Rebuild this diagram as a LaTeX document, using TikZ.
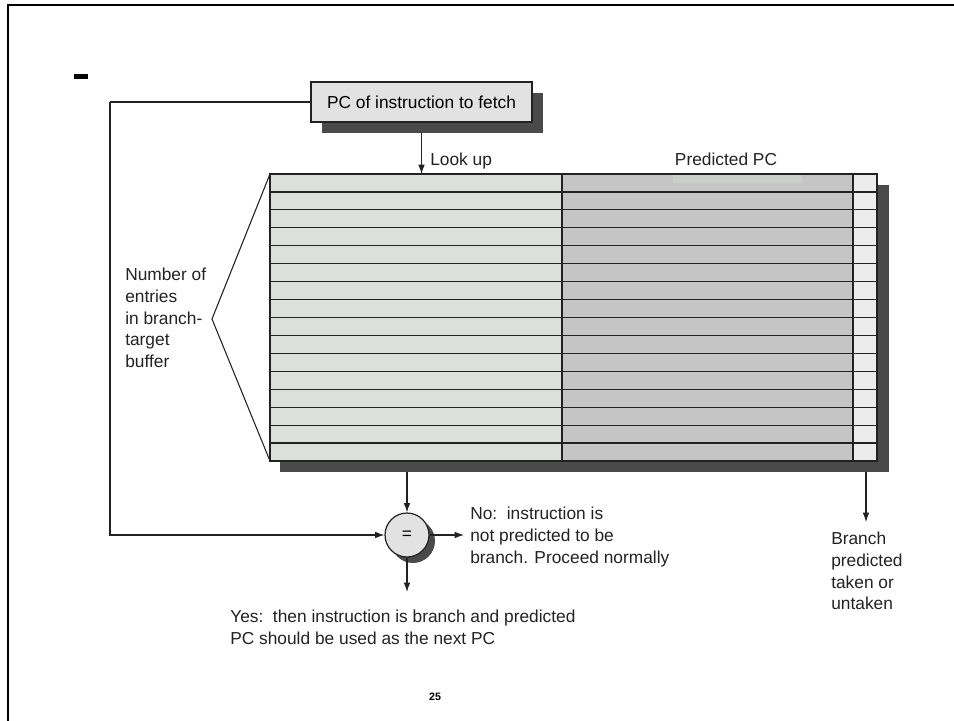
\documentclass[tikz,border=0pt]{standalone}
\usepackage{fontspec}
\setmainfont{Liberation Sans}
\usetikzlibrary{arrows.meta}
\definecolor{shad}{HTML}{4A4A4A}
\definecolor{colA}{HTML}{DCE0DB}
\definecolor{colB}{HTML}{C5C5C5}
\definecolor{colC}{HTML}{ECECEC}
\definecolor{hlite}{HTML}{CBCFCA}
\definecolor{boxfill}{HTML}{E1E2E1}
\definecolor{ink}{HTML}{222222}
\begin{document}
\begin{tikzpicture}[x=0.75pt,y=-0.75pt,
  font=\fontsize{13}{16.2}\selectfont,
  conn/.style={draw=ink,line width=0.8pt},
  arr/.style={conn,-{Latex[length=7pt,width=5pt]}},
  tline/.style={draw=ink,line width=0.9pt},
  lbl/.style={inner sep=0pt,align=left,anchor=north west,text=ink},
  pcbox/.style={draw=ink,line width=0.9pt,fill=boxfill,minimum width=165.75pt,minimum height=30pt,inner sep=0pt},
  eqnode/.style={circle,draw=ink,line width=0.9pt,fill=boxfill,minimum size=33pt,inner sep=0pt}]
\useasboundingbox (0,0) rectangle (954,721);
% frame
\draw[line width=2pt,black] (954,5) -- (8,5) -- (8,721);
\fill[black] (74,74) rectangle (88,79);

% coordinates
\coordinate (tnw) at (270,174);
\coordinate (tse) at (877,461);
\coordinate (tsb) at (573,472);
\coordinate (pcsb) at (421.5,133);
\coordinate (fb) at (110,102);
\coordinate (apex) at (212,319);
\coordinate (notip) at (464,535);
\coordinate (yestip) at (407,592);
\coordinate (brtop) at (866,472);
\coordinate (brtip) at (866,522);

% table
\fill[shad] (280,461) rectangle (889,472);
\fill[shad] (877,185) rectangle (889,472);
\fill[colA] (270,174) rectangle (562,461);
\fill[colB] (562,174) rectangle (853,461);
\fill[colC] (853,174) rectangle (877,461);
\fill[hlite] (673,175) rectangle (802,183);
\foreach \i in {0,...,16}
  \draw[tline] (270,{174+\i*17.9375}) -- (877,{174+\i*17.9375});
\draw[tline] (562,174) -- (562,461);
\draw[tline] (853,174) -- (853,461);
\draw[tline] (tnw) rectangle (tse);
\draw[conn] (tnw) -- (apex) -- (270,461);

% nodes
\fill[shad] (322,93) rectangle (543,133);
\node[pcbox] (pc) at (421.5,102) {PC of instruction to fetch};
\fill[shad] (413,541) circle (16.5pt);
\node[eqnode] (eq) at (407,535) {=};

% connectors
\draw[arr] (pc.south |- pcsb) -- (pc.south |- tnw);
\draw[conn] (pc.west) -- (fb);
\draw[arr] (fb) |- (eq.west);
\draw[arr] (eq |- tsb) -- (eq.north);
\draw[arr] (eq.east) -- (notip);
\draw[arr] (eq.south) -- (yestip);
\draw[arr] (brtop) -- (brtip);

% labels
\node[inner sep=0pt,anchor=base west,text=ink] (lookup) at (430,165) {Look up};
\node[inner sep=0pt,anchor=base,text=ink] (predpc) at (726,165) {Predicted PC};
\node[lbl] (num) at (125,268) {Number of\\entries\\in branch-\\target\\buffer};
\node[lbl] (notext) at (470,507) {No:\ \ instruction is\\not predicted to be\\branch. Proceed normally};
\node[lbl] (yestext) at (230,610) {Yes:\ \ then instruction is branch and predicted\\PC should be used as the next PC};
\node[lbl] (brtext) at (831,532) {Branch\\predicted\\taken or\\untaken};
\node[inner sep=0pt,font=\fontsize{8}{9}\selectfont\bfseries] (pnum) at (435,697) {25};
\end{tikzpicture}
\end{document}
